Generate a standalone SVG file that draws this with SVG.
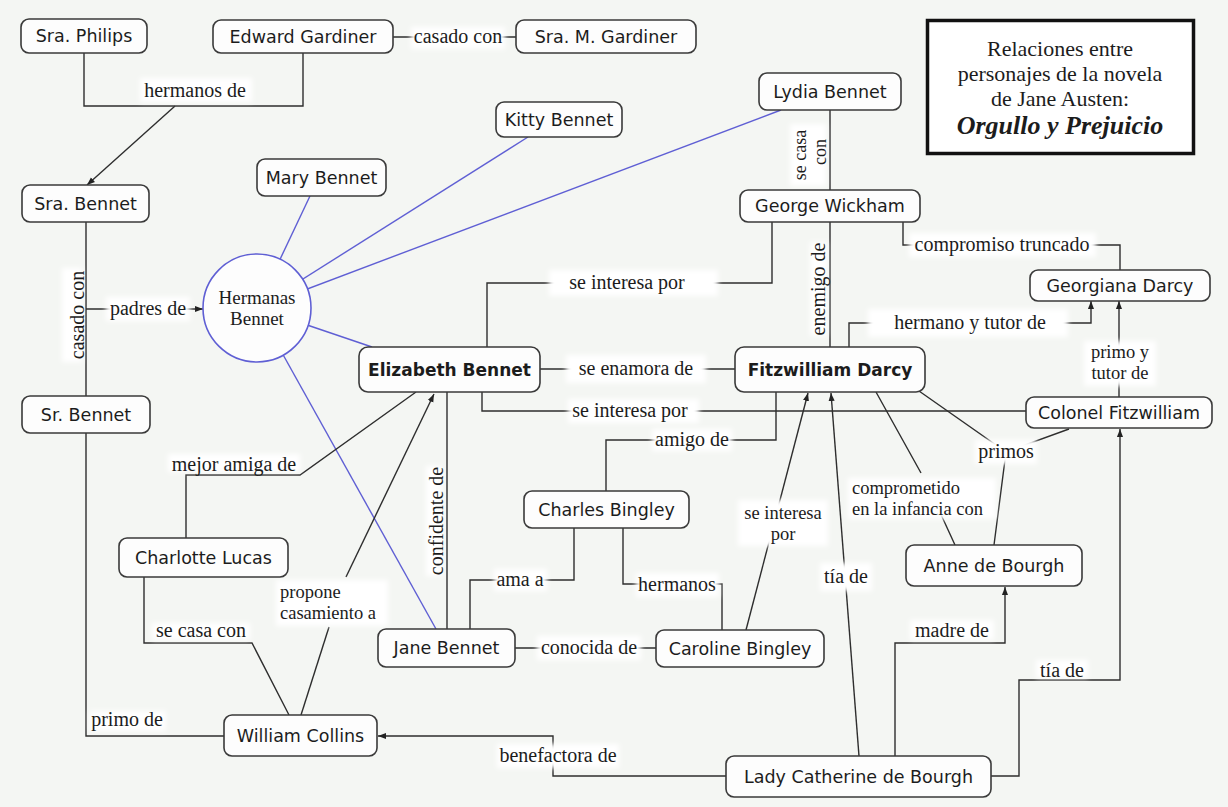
<svg xmlns="http://www.w3.org/2000/svg" width="1228" height="807" viewBox="0 0 1228 807">
<defs>
<style>
.nd rect{fill:#fdfdfd;stroke:#3a3a3a;stroke-width:1.6}
.nt{font-family:"DejaVu Sans",Verdana,sans-serif;font-size:17.5px;fill:#1c1c1c;text-anchor:middle}
.bd{font-weight:bold;font-size:17px}
.lb{font-family:"Liberation Serif","Times New Roman",serif;font-size:20px;fill:#1c1c1c;text-anchor:middle}
.l2{font-size:18.5px}
.ls{text-anchor:start}
.c{fill:none;stroke:#2e2e2e;stroke-width:1.4}
.a{marker-end:url(#ah)}
.bl{fill:none;stroke:#5f5fd4;stroke-width:1.4}
.bg{fill:#ffffff;filter:url(#soft)}
</style>
<filter id="soft" x="-20%" y="-40%" width="140%" height="180%"><feGaussianBlur stdDeviation="2.5"/></filter>
<marker id="ah" viewBox="0 0 10 10" refX="10" refY="5" markerWidth="8" markerHeight="8" orient="auto" markerUnits="userSpaceOnUse"><path d="M0,1.2 L10,5 L0,8.8 z" fill="#222"/></marker>
</defs>
<rect x="0" y="0" width="1228" height="807" fill="#f4f6f3"/>

<g id="blue-links">
<line class="bl" x1="257" y1="308" x2="310" y2="196"/>
<line class="bl" x1="257" y1="308" x2="528" y2="137"/>
<line class="bl" x1="257" y1="308" x2="781" y2="110"/>
<line class="bl" x1="257" y1="308" x2="372" y2="347"/>
<line class="bl" x1="257" y1="308" x2="436" y2="629"/>
</g>

<g id="connectors">
<path class="c" d="M84,53 V106 H303 V53"/>
<line class="c a" x1="175" y1="106" x2="87" y2="185"/>
<line class="c" x1="393" y1="37" x2="516" y2="37"/>
<line class="c" x1="86" y1="222" x2="86" y2="396"/>
<line class="c a" x1="86" y1="309" x2="203" y2="309"/>
<line class="c" x1="830" y1="110" x2="830" y2="190"/>
<line class="c" x1="830" y1="222" x2="830" y2="347"/>
<path class="c" d="M903,222 V245 H1120 V270"/>
<path class="c" d="M487,347 V283 H772 V222"/>
<line class="c" x1="540" y1="369" x2="735" y2="369"/>
<path class="c" d="M482,392 V411 H1026"/>
<path class="c a" d="M849,347 V323 H1091 V301"/>
<line class="c a" x1="1119" y1="397" x2="1119" y2="301"/>
<path class="c" d="M776,392 V440 H606 V491"/>
<line class="c a" x1="746" y1="630" x2="808" y2="393"/>
<line class="c a" x1="859" y1="756" x2="831" y2="393"/>
<path class="c" d="M876,392 L921,473 M938,508 L955,545"/>
<path class="c" d="M919,391 L1006,452 L1069,429 M1006,452 L994,545"/>
<path class="c" d="M574,528 V580 H470 V629"/>
<path class="c" d="M623,528 V584 H722 V630"/>
<line class="c" x1="515" y1="648" x2="656" y2="648"/>
<line class="c" x1="447" y1="629" x2="447" y2="392"/>
<path class="c" d="M186,538 V475 H300 L416,392"/>
<path class="c" d="M144,577 V643 H252 L289,715"/>
<line class="c" x1="301" y1="715" x2="329" y2="627"/>
<line class="c a" x1="346" y1="577" x2="434" y2="394"/>
<path class="c" d="M86,433 V736 H224"/>
<path class="c a" d="M726,776 H553 V736 H378"/>
<path class="c a" d="M895,756 V643 H1005 V587"/>
<path class="c a" d="M991,776 H1019 V680 H1120 V429"/>
</g>

<g id="labels">
<rect class="bg" x="140" y="78" width="112" height="24"/>
<text class="lb" x="195" y="97">hermanos de</text>
<rect class="bg" x="411" y="27" width="94" height="22"/>
<text class="lb" x="458" y="43">casado con</text>
<rect class="bg" x="62" y="268" width="20" height="94"/>
<text class="lb" transform="translate(84,315) rotate(-90)">casado con</text>
<rect class="bg" x="106" y="297" width="84" height="24"/>
<text class="lb" x="148" y="315">padres de</text>
<rect class="bg" x="790" y="124" width="36" height="62"/>
<text class="lb" style="font-size:18px" transform="translate(806,155) rotate(-90)">se casa</text>
<text class="lb" style="font-size:18px" transform="translate(826,152) rotate(-90)">con</text>
<rect class="bg" x="810" y="242" width="17" height="94"/>
<text class="lb" transform="translate(825,289) rotate(-90)">enemigo de</text>
<rect class="bg" x="909" y="233" width="187" height="24"/>
<text class="lb" x="1002" y="251">compromiso truncado</text>
<rect class="bg" x="549" y="270" width="169" height="26"/>
<text class="lb" x="627" y="289">se interesa por</text>
<rect class="bg" x="566" y="355" width="140" height="28"/>
<text class="lb" x="636" y="375">se enamora de</text>
<rect class="bg" x="568" y="399" width="131" height="24"/>
<text class="lb" x="630" y="417">se interesa por</text>
<rect class="bg" x="868" y="309" width="200" height="28"/>
<text class="lb" x="970" y="329">hermano y tutor de</text>
<rect class="bg" x="1084" y="341" width="72" height="45"/>
<text class="lb l2" x="1120" y="358">primo y</text>
<text class="lb l2" x="1120" y="379">tutor de</text>
<rect class="bg" x="652" y="429" width="80" height="22"/>
<text class="lb" x="692" y="446">amigo de</text>
<rect class="bg" x="738" y="500" width="90" height="46"/>
<text class="lb l2" x="783" y="519">se interesa</text>
<text class="lb l2" x="783" y="540">por</text>
<rect class="bg" x="820" y="563" width="52" height="28"/>
<text class="lb" x="846" y="583">tía de</text>
<rect class="bg" x="848" y="478" width="148" height="41"/>
<text class="lb l2 ls" x="852" y="494">comprometido</text>
<text class="lb l2 ls" x="852" y="515">en la infancia con</text>
<rect class="bg" x="975" y="440" width="62" height="24"/>
<text class="lb" x="1006" y="458">primos</text>
<rect class="bg" x="494" y="569" width="53" height="22"/>
<text class="lb" x="520" y="586">ama a</text>
<rect class="bg" x="636" y="573" width="83" height="24"/>
<text class="lb" x="677" y="591">hermanos</text>
<rect class="bg" x="537" y="636" width="104" height="24"/>
<text class="lb" x="589" y="654">conocida de</text>
<rect class="bg" x="426" y="466" width="16" height="110"/>
<text class="lb" transform="translate(443,521) rotate(-90)">confidente de</text>
<rect class="bg" x="168" y="454" width="132" height="18"/>
<text class="lb" x="234" y="471">mejor amiga de</text>
<rect class="bg" x="152" y="623" width="98" height="17"/>
<text class="lb" x="201" y="637">se casa con</text>
<rect class="bg" x="276" y="580" width="112" height="46"/>
<text class="lb l2 ls" x="280" y="598">propone</text>
<text class="lb l2 ls" x="280" y="619">casamiento a</text>
<rect class="bg" x="90" y="711" width="76" height="20"/>
<text class="lb" x="127" y="726">primo de</text>
<rect class="bg" x="497" y="744" width="122" height="24"/>
<text class="lb" x="558" y="762">benefactora de</text>
<rect class="bg" x="910" y="620" width="84" height="20"/>
<text class="lb" x="952" y="637">madre de</text>
<rect class="bg" x="1036" y="660" width="52" height="18"/>
<text class="lb" x="1062" y="677">tía de</text>
</g>

<g id="n-philips" class="nd"><rect x="21" y="19" width="126" height="34" rx="8"/><text class="nt" x="84" y="42">Sra. Philips</text></g>
<g id="n-edward" class="nd"><rect x="213" y="20" width="180" height="33" rx="8"/><text class="nt" x="303" y="42.5">Edward Gardiner</text></g>
<g id="n-mgardiner" class="nd"><rect x="516" y="20" width="180" height="33" rx="8"/><text class="nt" x="606" y="42.5">Sra. M. Gardiner</text></g>
<g id="n-srabennet" class="nd"><rect x="22" y="185" width="127" height="37" rx="8"/><text class="nt" x="85.5" y="209.5">Sra. Bennet</text></g>
<g id="n-mary" class="nd"><rect x="257" y="159" width="129" height="37" rx="8"/><text class="nt" x="321.5" y="183.5">Mary Bennet</text></g>
<g id="n-kitty" class="nd"><rect x="496" y="102" width="126" height="35" rx="8"/><text class="nt" x="559" y="125.5">Kitty Bennet</text></g>
<g id="n-lydia" class="nd"><rect x="759" y="73" width="142" height="37" rx="8"/><text class="nt" x="830" y="97.5">Lydia Bennet</text></g>
<g id="n-wickham" class="nd"><rect x="740" y="190" width="180" height="32" rx="8"/><text class="nt" x="830" y="212">George Wickham</text></g>
<g id="n-georgiana" class="nd"><rect x="1030" y="270" width="180" height="31" rx="8"/><text class="nt" x="1120" y="291.5">Georgiana Darcy</text></g>
<g id="n-elizabeth" class="nd"><rect x="359" y="347" width="181" height="45" rx="9"/><text class="nt bd" x="449.5" y="375.5">Elizabeth Bennet</text></g>
<g id="n-darcy" class="nd"><rect x="735" y="347" width="190" height="45" rx="9"/><text class="nt bd" x="830" y="375.5">Fitzwilliam Darcy</text></g>
<g id="n-colonel" class="nd"><rect x="1026" y="397" width="186" height="31" rx="8"/><text class="nt" x="1119" y="418.5">Colonel Fitzwilliam</text></g>
<g id="n-srbennet" class="nd"><rect x="22" y="396" width="128" height="37" rx="8"/><text class="nt" x="86" y="420.5">Sr. Bennet</text></g>
<g id="n-charles" class="nd"><rect x="524" y="491" width="165" height="37" rx="8"/><text class="nt" x="606.5" y="515.5">Charles Bingley</text></g>
<g id="n-charlotte" class="nd"><rect x="119" y="538" width="169" height="39" rx="8"/><text class="nt" x="203.5" y="563.5">Charlotte Lucas</text></g>
<g id="n-anne" class="nd"><rect x="906" y="545" width="176" height="41" rx="8"/><text class="nt" x="994" y="571.5">Anne de Bourgh</text></g>
<g id="n-jane" class="nd"><rect x="378" y="629" width="137" height="38" rx="8"/><text class="nt" x="446.5" y="654">Jane Bennet</text></g>
<g id="n-caroline" class="nd"><rect x="656" y="630" width="168" height="37" rx="8"/><text class="nt" x="740" y="654.5">Caroline Bingley</text></g>
<g id="n-william" class="nd"><rect x="224" y="715" width="153" height="41" rx="8"/><text class="nt" x="300.5" y="741.5">William Collins</text></g>
<g id="n-lady" class="nd"><rect x="726" y="756" width="265" height="41" rx="8"/><text class="nt" x="858.5" y="782.5">Lady Catherine de Bourgh</text></g>
<g id="n-hermanas"><circle cx="257" cy="308" r="54" fill="#fdfdfd" stroke="#5f5fd4" stroke-width="1.6"/><text class="lb" x="257" y="304" style="font-size:19px">Hermanas</text><text class="lb" x="257" y="325" style="font-size:19px">Bennet</text></g>
<g id="title">
<rect x="927.5" y="20.5" width="266" height="133" fill="#ffffff" stroke="#111" stroke-width="3.5"/>
<text class="lb" x="1060" y="56" style="font-size:22px">Relaciones entre</text>
<text class="lb" x="1060" y="81" style="font-size:22px">personajes de la novela</text>
<text class="lb" x="1060" y="106" style="font-size:22px">de Jane Austen:</text>
<text class="lb" x="1060" y="134" style="font-size:26px;font-weight:bold;font-style:italic">Orgullo y Prejuicio</text>
</g>
</svg>
